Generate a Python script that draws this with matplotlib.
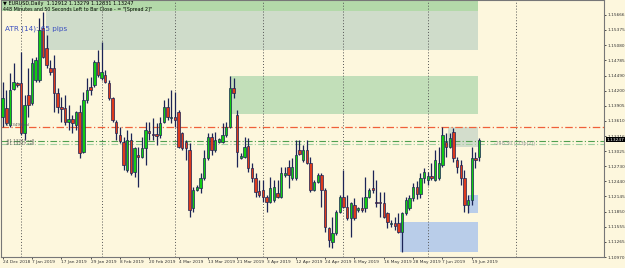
import matplotlib
matplotlib.use("Agg")
import matplotlib.pyplot as plt
from matplotlib.patches import Rectangle

# daily bars, index 0 = 24 Dec 2018
opens = [1.1369, 1.1386, 1.1353, 1.1423, 1.1435, 1.1435, 1.1338, 1.1412, 1.1396, 1.1441,
         1.1441, 1.1542, 1.1503, 1.1464, 1.1464, 1.1416, 1.1388, 1.1386, 1.1359, 1.1365,
         1.1353, 1.1379, 1.1301, 1.1402, 1.1427, 1.1431, 1.1476, 1.1445, 1.1450, 1.1435,
         1.1406, 1.1359, 1.1334, 1.1320, 1.1266, 1.1324, 1.1262, 1.1295, 1.1291, 1.1309,
         1.1342, 1.1336, 1.1336, 1.1334, 1.1359, 1.1388, 1.1367, 1.1369, 1.1379, 1.1338,
         1.1320, 1.1305, 1.1193, 1.1227, 1.1231, 1.1251, 1.1289, 1.1330, 1.1305, 1.1320,
         1.1320, 1.1334, 1.1350, 1.1425, 1.1373, 1.1289, 1.1291, 1.1313, 1.1270, 1.1251,
         1.1225, 1.1227, 1.1214, 1.1204, 1.1208, 1.1222, 1.1214, 1.1256, 1.1272, 1.1251,
         1.1251, 1.1305, 1.1286, 1.1305, 1.1280, 1.1227, 1.1243, 1.1256, 1.1227, 1.1154,
         1.1127, 1.1144, 1.1185, 1.1214, 1.1194, 1.1173, 1.1198, 1.1189, 1.1193, 1.1193,
         1.1214, 1.1231, 1.1204, 1.1204, 1.1202, 1.1183, 1.1161, 1.1163, 1.1163, 1.1146,
         1.1183, 1.1192, 1.1212, 1.1232, 1.1220, 1.1250, 1.1247, 1.1255, 1.1247, 1.1251,
         1.1276, 1.1320, 1.1311, 1.1340, 1.1286, 1.1276, 1.1251, 1.1198, 1.1208, 1.1289,
         1.12912]
highs = [1.1437, 1.1421, 1.1454, 1.1474, 1.1437, 1.1495, 1.1412, 1.1464, 1.1483, 1.1485,
         1.1561, 1.1573, 1.1528, 1.1480, 1.1489, 1.1425, 1.1408, 1.1412, 1.1392, 1.1373,
         1.1381, 1.1392, 1.1418, 1.1445, 1.1447, 1.1480, 1.1499, 1.1514, 1.1460, 1.1441,
         1.1408, 1.1363, 1.1350, 1.1330, 1.1344, 1.1338, 1.1311, 1.1311, 1.1330, 1.1359,
         1.1359, 1.1367, 1.1357, 1.1369, 1.1402, 1.1406, 1.1421, 1.1418, 1.1383, 1.1340,
         1.1324, 1.1319, 1.1233, 1.1237, 1.1260, 1.1305, 1.1338, 1.1338, 1.1340, 1.1328,
         1.1357, 1.1359, 1.1449, 1.1445, 1.1383, 1.1299, 1.1330, 1.1328, 1.1280, 1.1260,
         1.1247, 1.1247, 1.1218, 1.1253, 1.1247, 1.1247, 1.1272, 1.1272, 1.1286, 1.1289,
         1.1324, 1.1324, 1.1315, 1.1324, 1.1291, 1.1247, 1.1260, 1.1260, 1.1231, 1.1156,
         1.1175, 1.1189, 1.1218, 1.1266, 1.1218, 1.1204, 1.1212, 1.1194, 1.1214, 1.1253,
         1.1231, 1.1266, 1.1247, 1.1224, 1.1224, 1.1185, 1.1169, 1.1175, 1.1183, 1.1185,
         1.1214, 1.1218, 1.1240, 1.1245, 1.1260, 1.1270, 1.1262, 1.1280, 1.1305, 1.1311,
         1.1350, 1.1338, 1.1338, 1.1348, 1.1291, 1.1286, 1.1266, 1.1218, 1.1311, 1.1300,
         1.13279]
lows = [1.1350, 1.1353, 1.1350, 1.1421, 1.1427, 1.1334, 1.1324, 1.1369, 1.1392, 1.1437,
        1.1437, 1.1483, 1.1464, 1.1450, 1.1379, 1.1377, 1.1359, 1.1353, 1.1344, 1.1338,
        1.1344, 1.1289, 1.1299, 1.1396, 1.1412, 1.1427, 1.1447, 1.1441, 1.1435, 1.1402,
        1.1359, 1.1324, 1.1319, 1.1266, 1.1262, 1.1256, 1.1253, 1.1233, 1.1289, 1.1276,
        1.1324, 1.1324, 1.1315, 1.1328, 1.1357, 1.1363, 1.1357, 1.1350, 1.1309, 1.1305,
        1.1286, 1.1175, 1.1185, 1.1225, 1.1222, 1.1247, 1.1286, 1.1295, 1.1301, 1.1319,
        1.1319, 1.1330, 1.1348, 1.1406, 1.1272, 1.1288, 1.1289, 1.1262, 1.1243, 1.1214,
        1.1214, 1.1204, 1.1185, 1.1202, 1.1204, 1.1212, 1.1212, 1.1253, 1.1231, 1.1247,
        1.1247, 1.1295, 1.1282, 1.1278, 1.1224, 1.1225, 1.1241, 1.1194, 1.1146, 1.1117,
        1.1115, 1.1140, 1.1183, 1.1193, 1.1169, 1.1136, 1.1169, 1.1185, 1.1185, 1.1185,
        1.1212, 1.1222, 1.1194, 1.1175, 1.1173, 1.1154, 1.1156, 1.1150, 1.1144, 1.1107,
        1.1179, 1.1189, 1.1205, 1.1210, 1.1212, 1.1240, 1.1237, 1.1247, 1.1245, 1.1247,
        1.1272, 1.1291, 1.1309, 1.1282, 1.1260, 1.1237, 1.1185, 1.1183, 1.1198, 1.1270,
        1.12831]
closes = [1.1406, 1.1357, 1.1421, 1.1437, 1.1431, 1.1338, 1.1392, 1.1392, 1.1474, 1.1480,
          1.1538, 1.1485, 1.1470, 1.1456, 1.1416, 1.1388, 1.1385, 1.1359, 1.1365, 1.1357,
          1.1379, 1.1299, 1.1402, 1.1421, 1.1421, 1.1476, 1.1450, 1.1456, 1.1437, 1.1406,
          1.1363, 1.1338, 1.1322, 1.1276, 1.1324, 1.1260, 1.1309, 1.1291, 1.1309, 1.1344,
          1.1338, 1.1334, 1.1332, 1.1357, 1.1388, 1.1369, 1.1369, 1.1363, 1.1311, 1.1309,
          1.1309, 1.1189, 1.1227, 1.1233, 1.1251, 1.1289, 1.1330, 1.1305, 1.1324, 1.1326,
          1.1334, 1.1350, 1.1425, 1.1416, 1.1301, 1.1293, 1.1311, 1.1270, 1.1251, 1.1224,
          1.1218, 1.1214, 1.1204, 1.1231, 1.1233, 1.1214, 1.1260, 1.1260, 1.1256, 1.1272,
          1.1295, 1.1297, 1.1305, 1.1280, 1.1227, 1.1243, 1.1256, 1.1227, 1.1156, 1.1130,
          1.1144, 1.1185, 1.1214, 1.1194, 1.1173, 1.1202, 1.1173, 1.1193, 1.1189, 1.1214,
          1.1227, 1.1227, 1.1202, 1.1202, 1.1175, 1.1165, 1.1163, 1.1158, 1.1146, 1.1183,
          1.1208, 1.1212, 1.1232, 1.1220, 1.1250, 1.1262, 1.1255, 1.1250, 1.1286, 1.1280,
          1.1334, 1.1311, 1.1328, 1.1289, 1.1272, 1.1251, 1.1198, 1.1208, 1.1289, 1.1285,
          1.13247]

date_labels = ["24 Dec 2018", "7 Jan 2019", "17 Jan 2019", "29 Jan 2019", "8 Feb 2019",
               "20 Feb 2019", "4 Mar 2019", "13 Mar 2019", "21 Mar 2019", "3 Apr 2019",
               "12 Apr 2019", "24 Apr 2019", "6 May 2019", "16 May 2019", "28 May 2019",
               "7 Jun 2019", "19 Jun 2019"]
date_pos = [0, 8, 16, 24, 32, 40, 48, 56, 64, 72, 80, 88, 96, 104, 112, 120, 128]
month_sep = [5, 27, 47, 71, 93, 116, 140]

price_ticks = [1.15666, 1.15375, 1.15080, 1.14785, 1.14490, 1.14200, 1.13905, 1.13610,
               1.13316, 1.13025, 1.12730, 1.12440, 1.12145, 1.11850, 1.11555, 1.11265, 1.10970]

# zones: (x0, x1, y_low, y_high, color)
zones = [
    (-0.5, 129.8, 1.1575, 1.1600, "#b3d9a9"),
    (11.8, 129.8, 1.1499, 1.1575, "#cfdcca"),
    (62.0, 129.8, 1.1375, 1.1448, "#c2dfb9"),
    (121.6, 129.8, 1.1311, 1.1350, "#d3ddcc"),
    (108.5, 129.8, 1.1107, 1.1165, "#b9cde9"),
    (127.0, 129.8, 1.1183, 1.1218, "#b9cde9"),
]

bg = "#fdf7dd"
navy = "#1c2456"
bull = "#12cc12"
bear = "#dd3a1c"
ymin, ymax = 1.10970, 1.15957

fig = plt.figure(figsize=(6.25, 2.68), dpi=100, facecolor=bg)
ax = fig.add_axes([0.0016, 0.041, 0.9648, 0.959])
ax.set_facecolor(bg)

for x0, x1, lo, hi, c in zones:
    ax.add_patch(Rectangle((x0, lo), x1 - x0, hi - lo, facecolor=c, edgecolor="none", zorder=1))

for m in month_sep:
    ax.axvline(m, color="#555555", lw=0.7, ls=(0, (1, 2)), zorder=2)

ax.axhline(1.1350, color="#f0603a", lw=0.9, ls=(0, (6, 2, 1, 2)), zorder=2)
ax.axhline(1.1322, color="#4f9f4f", lw=0.8, ls=(0, (6, 2, 1, 2)), zorder=2)
ax.axhline(1.1316, color="#9fcf9f", lw=0.8, ls=(0, (6, 2, 1, 2)), zorder=2)

idx = list(range(len(opens)))
ax.vlines(idx, lows, highs, color=navy, lw=0.9, zorder=3)
for i in idx:
    o, c = opens[i], closes[i]
    col = bull if c >= o else bear
    lo = min(o, c)
    h = max(abs(c - o), 0.00006)
    ax.add_patch(Rectangle((i - 0.33, lo), 0.66, h, facecolor=col, edgecolor=navy,
                           lw=0.5, zorder=4))

ax.set_xlim(-0.46, 164.1)
ax.set_ylim(ymin, ymax)

ax.yaxis.tick_right()
ax.set_yticks(price_ticks)
ax.set_yticklabels([f"{t:.5f}" for t in price_ticks])
ax.set_xticks(date_pos)
ax.set_xticklabels(date_labels, ha="left")
ax.tick_params(axis="both", labelsize=3.1, length=1.5, width=0.6, pad=0.8, colors="#333333")
for s in ax.spines.values():
    s.set_color("#777777")
    s.set_linewidth(0.8)

# current price box
ax.text(1.004, (1.13247 - ymin) / (ymax - ymin), "1.13247", transform=ax.transAxes,
        fontsize=3.1, color="white", va="center", ha="left",
        bbox=dict(facecolor="black", edgecolor="none", pad=0.5), zorder=10, clip_on=False)

ax.text(0.004, 0.985, "\u25bc EURUSD,Daily  1.12912 1.13279 1.12831 1.13247", transform=ax.transAxes,
        fontsize=3.6, color="black", va="center", zorder=10)
ax.text(0.004, 0.962, "448 Minutes and 50 Seconds Left to Bar Close - = \"[Spread 2]\"",
        transform=ax.transAxes, fontsize=3.4, color="black", va="center", zorder=10)
ax.text(0.006, 0.89, "ATR (14): 65 pips", transform=ax.transAxes, fontsize=5.2,
        color="#3b4fc0", va="center", zorder=10)

ax.text(1.0, 1.1350, "1.13493 ml", fontsize=3.0, color="#555555", va="bottom", zorder=10)
ax.text(1.0, 1.1322, "#1.13247 sell", fontsize=3.0, color="#555555", va="center", zorder=10)
ax.text(1.0, 1.1316, "#1.13247 sell", fontsize=3.0, color="#555555", va="center", zorder=10)
ax.text(134, 1.1318, "-248.50 (-73p(2))", fontsize=3.4, color="#999999", va="center", zorder=10)

fig.savefig("out.png", dpi=100, facecolor=bg)
